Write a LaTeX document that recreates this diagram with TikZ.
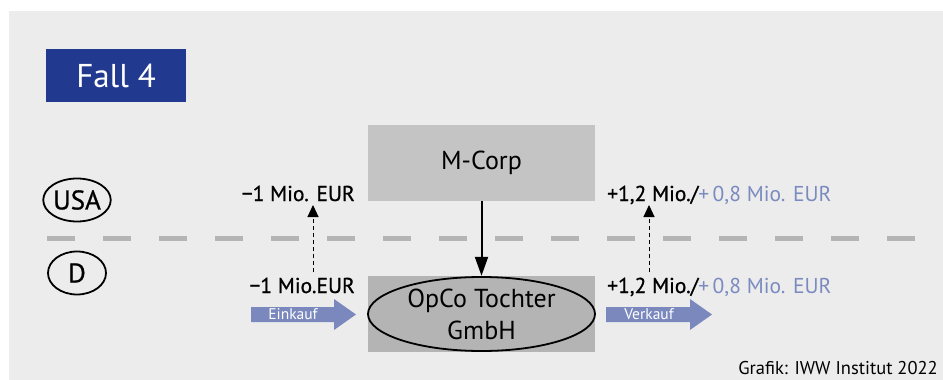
\documentclass[tikz,border=0pt]{standalone}
\usepackage{fontspec}
\setmainfont{PT Sans}
\newfontfamily\medfont[FakeBold=0.8]{PT Sans}
\usetikzlibrary{arrows.meta,shapes.geometric}
\definecolor{bg}{HTML}{ECECEC}
\definecolor{fallblue}{HTML}{213A8F}
\definecolor{lblue}{HTML}{7B8BC0}
\definecolor{arrowblue}{HTML}{7A88BD}
\definecolor{boxA}{HTML}{C4C4C4}
\definecolor{boxB}{HTML}{B4B4B4}
\definecolor{dashg}{HTML}{B4B4B4}
\tikzset{
  country/.style={draw=black, line width=1.8pt, ellipse, minimum width=58pt, minimum height=43pt, inner sep=0pt, font=\medfont\fontsize{27}{29}\selectfont},
  amount/.style={inner sep=0pt, font=\fontsize{21.5}{24}\selectfont},
  flowarrow/.style={fill=arrowblue, draw=none},
  flowlabel/.style={text=white, inner sep=0pt, font=\fontsize{15.5}{17}\selectfont},
  taxarrow/.style={dashed, line width=1pt, dash pattern=on 4pt off 3pt, -{Triangle[length=12pt,width=11pt]}},
}
\begin{document}
\begin{tikzpicture}[x=1pt,y=-1pt]
\path[use as bounding box] (0,0) rectangle (943,380);
\fill[white] (0,0) rectangle (943,380);
\fill[bg] (9,11) rectangle (943,380);

% title
\node[fill=fallblue, minimum width=140pt, minimum height=53pt, inner sep=0pt, text=white, font=\fontsize{33}{35}\selectfont] (fall) at (116,75.5) {Fall 4};

% border line
\draw[dashg, line width=5pt, dash pattern=on 28pt off 28pt] (47,238) -- (917,238);

% countries
\node[country] (usa) at (77,200) {USA};
\node[country] (d) at (77,273) {D};

% companies
\node[fill=boxA, minimum width=227pt, minimum height=76pt, inner sep=0pt, font=\fontsize{26}{28}\selectfont] (mcorp) at (481.5,163) {M-Corp};
\node[fill=boxB, minimum width=227pt, minimum height=76pt, inner sep=0pt] (opcobox) at (481.5,314) {};
\node[draw=black, line width=1.8pt, fill=boxB, ellipse, minimum width=227pt, minimum height=74pt, inner sep=0pt, align=center, font=\fontsize{26}{32}\selectfont] (opco) at (481.5,314) {OpCo Tochter\\GmbH};
\draw[line width=2pt, -{Triangle[length=19pt,width=13pt]}] (mcorp.south) -- (opcobox.north);

% left amounts
\node[amount, anchor=base east] (lup) at (355,201) {\medfont −1 Mio. EUR};
\node[amount, anchor=base east] (llow) at (355,293) {\medfont −1 Mio.EUR};
\coordinate (lfrom) at (313,272);
\coordinate (lto) at (313,205);
\draw[taxarrow] (lfrom) -- (lto);

% right amounts
\node[amount, anchor=base west] (rup) at (607,201) {{\medfont +1,2 Mio./}\textcolor{lblue}{+\,0,8 Mio. EUR}};
\node[amount, anchor=base west] (rlow) at (607,293) {{\medfont +1,2 Mio./}\textcolor{lblue}{+\,0,8 Mio. EUR}};
\coordinate (rfrom) at (649,272);
\coordinate (rto) at (649,205);
\draw[taxarrow] (rfrom) -- (rto);

% flow arrows
\fill[flowarrow] (251,307) -- (334,307) -- (334,299) -- (356,314.5) -- (334,330) -- (334,322) -- (251,322) -- cycle;
\node[flowlabel] (ein) at (293,314.5) {Einkauf};
\fill[flowarrow] (606,307) -- (690,307) -- (690,299) -- (712,314.5) -- (690,330) -- (690,322) -- (606,322) -- cycle;
\node[flowlabel] (ver) at (649,314.5) {Verkauf};

% credit
\node[anchor=base east, inner sep=0pt, font=\fontsize{18.5}{20}\selectfont] (credit) at (938,374) {Grafik: IWW Institut 2022};
\end{tikzpicture}
\end{document}
